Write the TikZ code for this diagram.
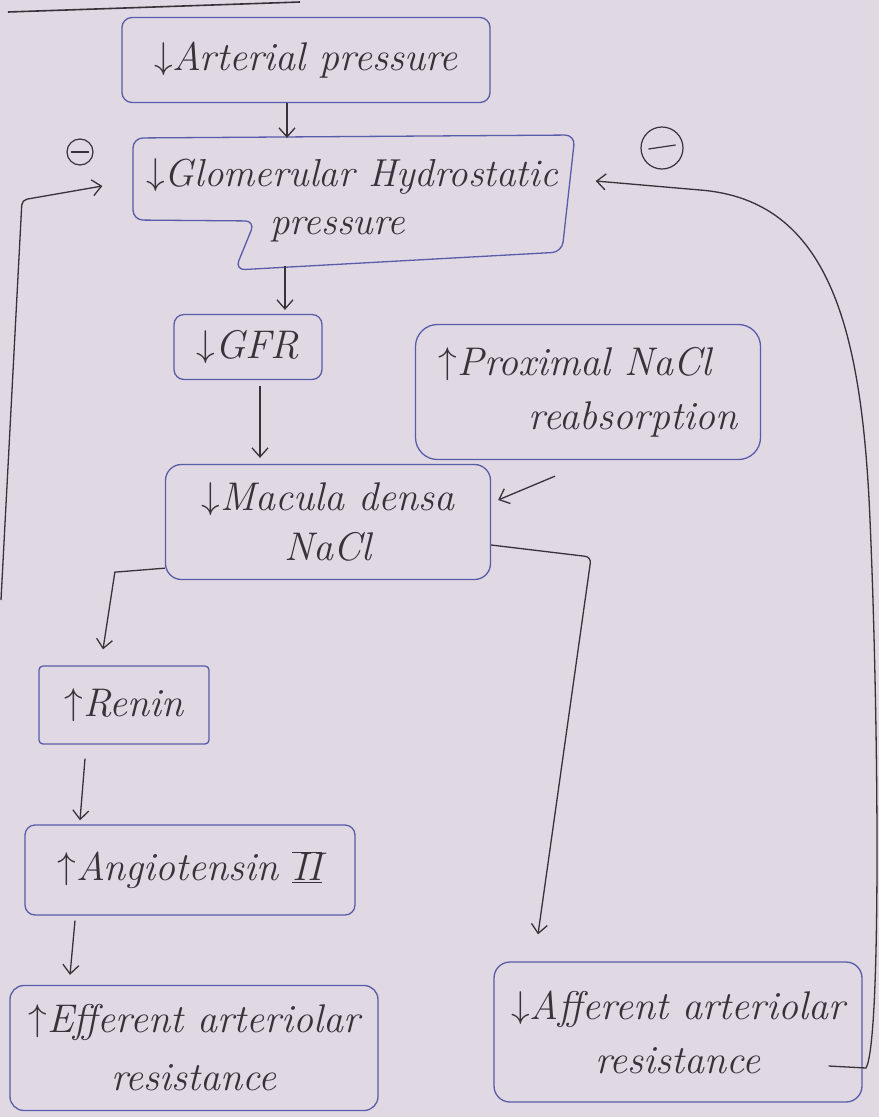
\documentclass[tikz,border=0pt]{standalone}
\usetikzlibrary{arrows.meta}
\definecolor{paper}{RGB}{224,216,226}
\definecolor{pen}{RGB}{88,92,170}
\definecolor{ink}{RGB}{58,50,56}
\newcommand\dnarr{\raisebox{2pt}{\scalebox{1.5}{$\downarrow$}}}
\newcommand\uparr{\raisebox{2pt}{\scalebox{1.5}{$\uparrow$}}}
\begin{document}
\begin{tikzpicture}[x=1pt,y=-1pt,
  box/.style={draw=pen, line width=1.3pt, rounded corners=10pt, text=ink,
    font=\fontsize{40}{54}\selectfont\itshape, align=center, inner sep=0pt},
  arr/.style={draw=ink, line width=1.3pt, -{Straight Barb[length=9pt,width=16pt]}},
  link/.style={draw=ink, line width=1.3pt},
  ominus/.style={circle, draw=ink, line width=1.2pt, inner sep=0pt}]
\fill[paper] (0,0) rectangle (879,1117);
\useasboundingbox (0,0) rectangle (879,1117);

% top rule
\coordinate (tl) at (8,12);
\coordinate (tr) at (300,2);
\draw[link, line width=1.6pt] (tl) -- (tr);

% boxes
\node[box, minimum width=368pt, minimum height=85pt] (art) at (306,60) {\dnarr Arterial pressure};
\node[box, draw=none, align=left, minimum width=442pt, minimum height=131pt,
  font=\fontsize{39}{48}\selectfont\itshape] (glom) at (352,200)
  {\dnarr Glomerular Hydrostatic\\\hspace*{124pt}pressure};
\draw[pen, line width=1.3pt, rounded corners=10pt]
  (133,220) -- (133,138) -- (575,135) -- (562,252) -- (235,270) -- (255,221) -- cycle;
\node[box, minimum width=148pt, minimum height=65pt] (gfr) at (248,347) {\dnarr GFR};
\node[box, minimum width=345pt, minimum height=135pt, rounded corners=22pt, align=left] (prox) at (588,392)
  {\uparr Proximal NaCl\\\hspace*{90pt}reabsorption};
\node[box, minimum width=325pt, minimum height=115pt, rounded corners=16pt,
  font=\fontsize{40}{50}\selectfont\itshape] (mac) at (328,522)
  {\dnarr Macula densa\\NaCl};
\node[box, minimum width=170pt, minimum height=78pt, rounded corners=4pt] (renin) at (124,705) {\uparr Renin};
\node[box, minimum width=330pt, minimum height=90pt] (ang) at (190,870)
  {\uparr Angiotensin $\overline{\underline{\hbox{\itshape II}}}$};
\node[box, minimum width=368pt, minimum height=125pt, rounded corners=14pt,
  font=\fontsize{40}{58}\selectfont\itshape] (eff) at (194,1048)
  {\uparr Efferent arteriolar\\resistance};
\node[box, minimum width=368pt, minimum height=140pt, rounded corners=16pt] (aff) at (678,1032)
  {\dnarr Afferent arteriolar\\resistance};

% minus signs
\node[ominus, minimum size=26pt] (m1) at (80,152) {};
\draw[link, line width=1.2pt] ([xshift=5pt]m1.west) -- ([xshift=-5pt]m1.east);
\node[ominus, minimum size=42pt] (m2) at (662,148) {};
\draw[link, line width=1.2pt] ([xshift=8pt,yshift=-1pt]m2.west) -- ([xshift=-8pt,yshift=3pt]m2.east);

% main chain
\draw[arr] ([xshift=-19pt]art.south) -- ([xshift=-19pt,yshift=-4pt]art.south |- glom.north);
\draw[arr] ([xshift=37pt]gfr.north |- glom.south) -- ([xshift=37pt,yshift=4pt]gfr.north);
\draw[arr] ([xshift=12pt,yshift=-6pt]gfr.south) -- ([xshift=12pt,yshift=6pt]gfr.south |- mac.north);
\draw[arr] ([xshift=-33pt,yshift=-16pt]prox.south) -- ([xshift=7pt,yshift=22pt]mac.east);
\draw[arr] ([yshift=12pt]mac.south west) -- ++(-50pt,-4pt) -- ([xshift=-21pt,yshift=16pt]renin.north);
\draw[arr] ([xshift=-39pt,yshift=-14pt]renin.south) -- ([xshift=-110pt,yshift=4pt]ang.north);
\draw[arr] ([xshift=-115pt,yshift=-5pt]ang.south) -- ([xshift=-124pt,yshift=10pt]eff.north);
\draw[arr, rounded corners=6pt] ([yshift=-23pt]mac.east) -- ++(100pt,-12pt) -- ([xshift=-140pt,yshift=27pt]aff.north);

% feedback loops
\coordinate (lfree) at (1,600);
\draw[arr, rounded corners=5pt] (lfree) -- (22,200) -- ([xshift=-28pt,yshift=14pt]glom.west);
\draw[arr] ([xshift=-34pt,yshift=-34pt]aff.east) -- (866,1068)
  .. controls (882,1040) and (878,700) .. (870,520)
  .. controls (862,330) and (830,200) .. (700,190)
  -- ([xshift=22pt,yshift=19pt]glom.east);
\end{tikzpicture}
\end{document}
